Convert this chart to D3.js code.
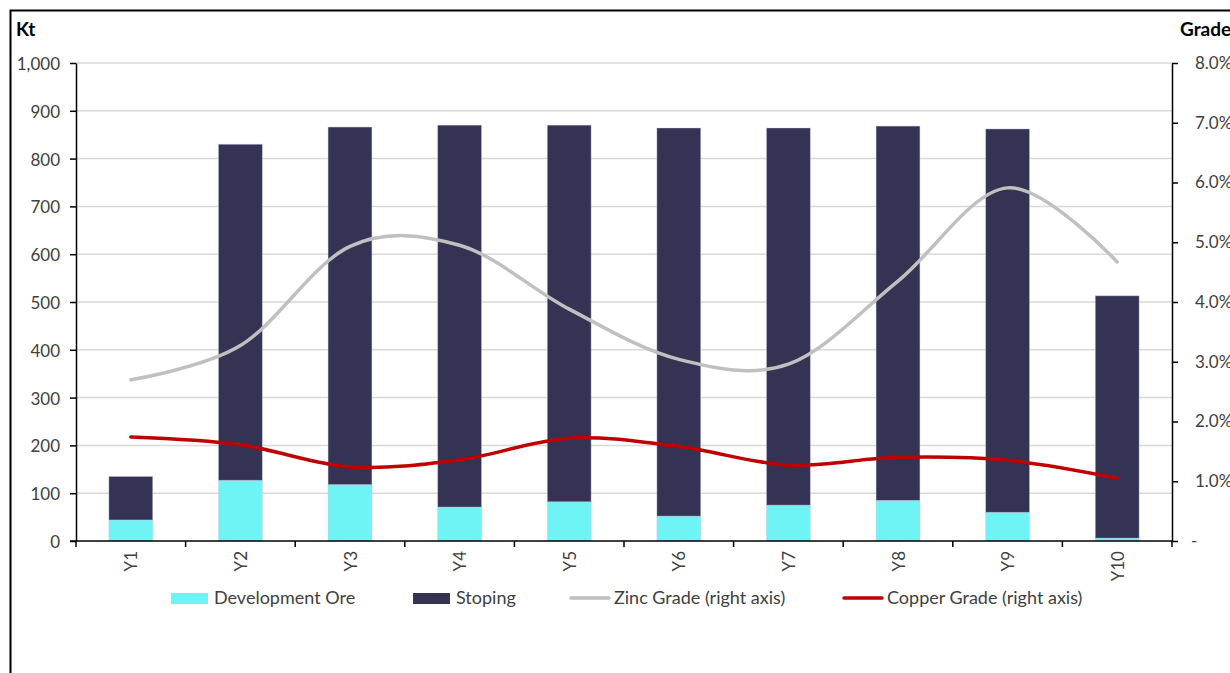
<!DOCTYPE html>
<html>
<head>
<meta charset="utf-8">
<script src="https://cdn.jsdelivr.net/npm/d3@7"></script>
<style>
  html, body { margin: 0; padding: 0; background: #fff; }
  svg { display: block; }
  text { font-family: "Lato", "Open Sans", sans-serif; }
</style>
</head>
<body>
<svg id="chart" width="1230" height="673"></svg>
<script>
// ---- data ----
const categories = ["Y1","Y2","Y3","Y4","Y5","Y6","Y7","Y8","Y9","Y10"];
const developmentOre = [44, 127, 118, 71, 82, 52, 75, 85, 60, 6];
const stoping        = [91, 703, 748, 799, 788, 812, 789, 783, 802, 507];
const zincGrade      = [2.70, 3.27, 4.93, 4.95, 3.88, 3.04, 2.96, 4.35, 5.91, 4.67];
const copperGrade    = [1.74, 1.61, 1.24, 1.36, 1.72, 1.58, 1.27, 1.40, 1.35, 1.05];
const leftTicks  = [0,100,200,300,400,500,600,700,800,900,1000];
const rightTicks = [0,1,2,3,4,5,6,7,8];
const seriesNames = ["Development Ore","Stoping","Zinc Grade (right axis)","Copper Grade (right axis)"];

// ---- layout ----
const plot = {left: 76, right: 1172, top: 63, bottom: 541};
const colors = {dev: "#6EF4F5", stope: "#343353", zinc: "#C0C0C0", copper: "#C00000"};
const tickColor = "#404040";

const svg = d3.select("#chart");
svg.append("rect").attr("width",1230).attr("height",673).attr("fill","#fff");
// outer chart border (cropped at right/bottom)
svg.append("rect").attr("x",10.5).attr("y",10.5).attr("width",1400).attr("height",800)
  .attr("fill","none").attr("stroke","#000").attr("stroke-width",2);

const x = d3.scaleBand().domain(categories).range([plot.left, plot.right])
  .paddingInner(0.6).paddingOuter(0.3);
const yL = d3.scaleLinear().domain([0,1000]).range([plot.bottom, plot.top]);
const yR = d3.scaleLinear().domain([0,8]).range([plot.bottom, plot.top]);

// gridlines
svg.append("g").selectAll("line").data(leftTicks.filter(d => d > 0)).join("line")
  .attr("x1", plot.left).attr("x2", plot.right)
  .attr("y1", d => yL(d)).attr("y2", d => yL(d))
  .attr("stroke", "#D9D9D9").attr("stroke-width", 1.5);

// stacked bars
const stackData = categories.map((c,i) => ({cat:c, dev:developmentOre[i], stope:stoping[i]}));
const stacked = d3.stack().keys(["dev","stope"])(stackData);
svg.append("g").selectAll("g").data(stacked).join("g")
  .attr("fill", s => s.key === "dev" ? colors.dev : colors.stope)
  .selectAll("rect").data(s => s).join("rect")
  .attr("x", d => x(d.data.cat))
  .attr("width", x.bandwidth())
  .attr("y", d => yL(d[1]))
  .attr("height", d => yL(d[0]) - yL(d[1]))
  .attr("stroke", "rgba(200,200,225,0.55)").attr("stroke-width", 0.8);

// lines
const cx = c => x(c) + x.bandwidth()/2;
const lineGen = d3.line().x(d => cx(d.cat)).y(d => yR(d.v)).curve(d3.curveCardinal.tension(0));
svg.append("path").datum(categories.map((c,i)=>({cat:c, v:zincGrade[i]})))
  .attr("d", lineGen).attr("fill","none").attr("stroke",colors.zinc)
  .attr("stroke-width",3.5).attr("stroke-linecap","round");
svg.append("path").datum(categories.map((c,i)=>({cat:c, v:copperGrade[i]})))
  .attr("d", lineGen).attr("fill","none").attr("stroke",colors.copper)
  .attr("stroke-width",3.5).attr("stroke-linecap","round");

// left axis
const gL = svg.append("g").attr("transform", `translate(${plot.left},0)`)
  .call(d3.axisLeft(yL).tickValues(leftTicks).tickSize(6).tickSizeOuter(0).tickPadding(10)
    .tickFormat(d3.format(",")));
gL.select(".domain").attr("stroke","#000").attr("stroke-width",1.5);
gL.selectAll(".tick line").attr("stroke","#000").attr("stroke-width",1.5);
gL.selectAll(".tick text").attr("fill",tickColor).style("font-size","17px").attr("font-family",null).attr("dy","0.38em");

// right axis
const gR = svg.append("g").attr("transform", `translate(${plot.right},0)`)
  .call(d3.axisRight(yR).tickValues(rightTicks).tickSize(6).tickSizeOuter(0).tickPadding(17)
    .tickFormat(d => d === 0 ? "-" : d.toFixed(1) + "%"));
gR.select(".domain").attr("stroke","#000").attr("stroke-width",1.5);
gR.selectAll(".tick line").attr("stroke","#000").attr("stroke-width",1.5);
gR.selectAll(".tick text").attr("fill",tickColor).style("font-size","17px").attr("font-family",null)
  .attr("dx", d => d === 0 ? -4 : 0);

// bottom axis
const gB = svg.append("g");
gB.append("line").attr("x1",plot.left-6).attr("x2",plot.right).attr("y1",plot.bottom).attr("y2",plot.bottom)
  .attr("stroke","#000").attr("stroke-width",1.5);
const bounds = categories.map(c => x(c) - x.step()*x.paddingInner()/2).concat([plot.right]);
gB.selectAll("line.tk").data(bounds).join("line").attr("class","tk")
  .attr("x1", d=>d).attr("x2", d=>d).attr("y1", plot.bottom).attr("y2", plot.bottom+6)
  .attr("stroke","#000").attr("stroke-width",1.5);
gB.selectAll("text").data(categories).join("text")
  .attr("transform", c => `translate(${cx(c)},${plot.bottom+10}) rotate(-90)`)
  .attr("text-anchor","end").attr("dominant-baseline","central")
  .attr("fill",tickColor).style("font-size","17px").text(c => c);

// axis titles
svg.append("text").attr("x",16).attr("y",36).attr("font-weight","bold").style("font-size","19px").attr("fill","#000").text("Kt");
svg.append("text").attr("x",1180).attr("y",36).attr("font-weight","bold").style("font-size","19px").attr("fill","#000").text("Grade");

// legend
const legendX = [171, 413, 570, 843];
const legendKinds = ["rect","rect","line","line"];
const legendColors = [colors.dev, colors.stope, colors.zinc, colors.copper];
const lg = svg.append("g");
seriesNames.forEach((name,i) => {
  const g = lg.append("g").attr("transform", `translate(${legendX[i]},598)`);
  if (legendKinds[i] === "rect") {
    g.append("rect").attr("x",0).attr("y",-5).attr("width",37).attr("height",11).attr("fill",legendColors[i]);
  } else {
    g.append("line").attr("x1",1).attr("x2",39).attr("y1",0).attr("y2",0)
      .attr("stroke",legendColors[i]).attr("stroke-width",3.5).attr("stroke-linecap","round");
  }
  g.append("text").attr("x", legendKinds[i]==="rect" ? 43 : 44).attr("y",0).attr("dy","0.35em")
    .attr("fill",tickColor).style("font-size","18px").text(name);
});
</script>
</body>
</html>
